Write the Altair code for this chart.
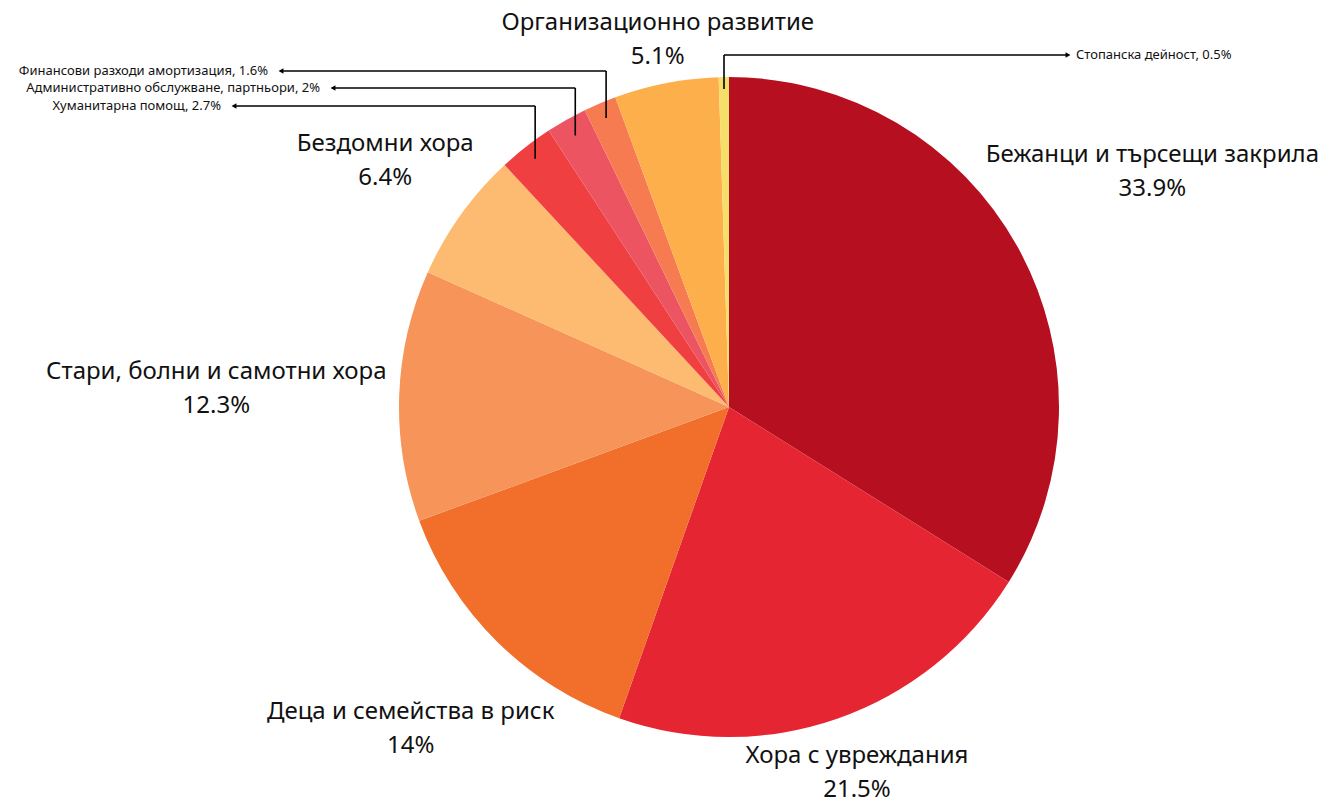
import altair as alt
import pandas as pd

# ---- data (clockwise from 12 o'clock) ----
categories = [
    "Бежанци и търсещи закрила",
    "Хора с увреждания",
    "Деца и семейства в риск",
    "Стари, болни и самотни хора",
    "Бездомни хора",
    "Хуманитарна помощ",
    "Административно обслужване, партньори",
    "Финансови разходи амортизация",
    "Организационно развитие",
    "Стопанска дейност",
]
values = [33.9, 21.5, 14, 12.3, 6.4, 2.7, 2, 1.6, 5.1, 0.5]
colors = ["#B50F20", "#E52532", "#F26E2B", "#F69459", "#FDBB72",
          "#F03F41", "#EC5462", "#F77B51", "#FDAF4B", "#F6DE6B"]
small = [False, False, False, False, False, True, True, True, False, True]

# ---- layout (kept apart from the data) ----
CX, CY, R = 721, 399, 330
label_radius = [484, 388, 453, 513, 423, None, None, None, 374, None]
row_y = [None, None, None, None, None, 98, 80, 63, None, 47]
tip_x = [None, None, None, None, None, 226, 325, 273, None, 1060]
anchor_r = [None, None, None, None, None, 315, 312, 314, None, 318]
FONT = "Noto Sans"

pct = [f"{v:g}%" for v in values]
df = pd.DataFrame({
    "idx": list(range(len(categories))),
    "cat": categories,
    "value": values,
    "small": small,
    "pct": pct,
    "small_text": [f"{c}, {p}" for c, p in zip(categories, pct)],
    "lr": label_radius,
    "row_y": row_y,
    "tip_x": tip_x,
    "anchor_r": anchor_r,
})
df["dir"] = ["triangle-right" if (t is not None and t > CX) else "triangle-left" for t in tip_x]

base = alt.Chart(df)

pie = base.mark_arc(radius=R, stroke=None).encode(
    theta=alt.Theta("value:Q", stack=True),
    order=alt.Order("idx:Q", sort="ascending"),
    color=alt.Color("cat:N", scale=alt.Scale(domain=categories, range=colors), legend=None),
    x=alt.value(CX), y=alt.value(CY),
)

# mid angle of each slice, computed from the values
polar = (base
         .transform_window(cum="sum(value)", sort=[alt.SortField("idx")], frame=[None, 0])
         .transform_joinaggregate(total="sum(value)")
         .transform_calculate(mid="(datum.cum - datum.value / 2) / datum.total"))

big = (polar.transform_filter("!datum.small")
       .transform_calculate(
           lx=f"{CX} + datum.lr * sin(2 * PI * datum.mid)",
           ly=f"{CY} - datum.lr * cos(2 * PI * datum.mid)",
       ))
big_name = big.mark_text(font=FONT, fontSize=24, color="#111", dy=-17,
                         align="center", baseline="middle").encode(
    x=alt.X("lx:Q", scale=None, axis=None),
    y=alt.Y("ly:Q", scale=None, axis=None),
    text="cat:N",
)
big_pct = big.mark_text(font=FONT, fontSize=24, color="#111", dy=17,
                        align="center", baseline="middle").encode(
    x=alt.X("lx:Q", scale=None, axis=None),
    y=alt.Y("ly:Q", scale=None, axis=None),
    text="pct:N",
)

lead = (polar.transform_filter("datum.small")
        .transform_calculate(
            ax=f"{CX} + datum.anchor_r * sin(2 * PI * datum.mid)",
            ay=f"{CY} - datum.anchor_r * cos(2 * PI * datum.mid)",
            left=f"datum.tip_x < {CX}",
        ))

vrule = lead.mark_rule(color="#000", strokeWidth=1.6).encode(
    x=alt.X("ax:Q", scale=None, axis=None),
    y=alt.Y("ay:Q", scale=None, axis=None),
    y2="row_y:Q",
)
hrule = lead.mark_rule(color="#000", strokeWidth=1.6).encode(
    x=alt.X("ax:Q", scale=None, axis=None),
    x2="tip_x:Q",
    y=alt.Y("row_y:Q", scale=None, axis=None),
)
heads = lead.mark_point(filled=True, color="#000", size=32, opacity=1).encode(
    x=alt.X("tip_x:Q", scale=None, axis=None),
    y=alt.Y("row_y:Q", scale=None, axis=None),
    shape=alt.Shape("dir:N", scale=None),
)
small_left = lead.transform_filter("datum.left").mark_text(
    font=FONT, fontSize=13, color="#111", align="right", baseline="middle", dx=-13
).encode(
    x=alt.X("tip_x:Q", scale=None, axis=None),
    y=alt.Y("row_y:Q", scale=None, axis=None),
    text="small_text:N",
)
small_right = lead.transform_filter("!datum.left").mark_text(
    font=FONT, fontSize=13, color="#111", align="left", baseline="middle", dx=8
).encode(
    x=alt.X("tip_x:Q", scale=None, axis=None),
    y=alt.Y("row_y:Q", scale=None, axis=None),
    text="small_text:N",
)

chart = alt.layer(pie, big_name, big_pct, vrule, hrule, heads, small_left, small_right).properties(
    width=1317, height=794, padding=0, autosize=alt.AutoSizeParams(type="none"),
    background="white",
).configure_view(stroke=None)

chart.save("out.html", embed_options={"renderer": "svg", "actions": False})
